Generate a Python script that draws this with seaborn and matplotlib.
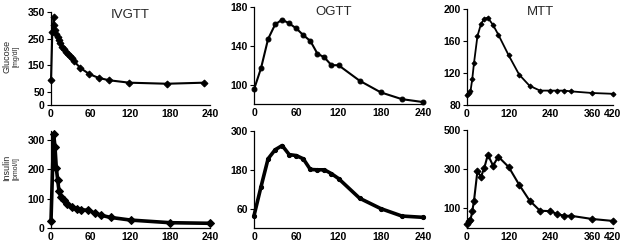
import matplotlib
matplotlib.use("Agg")
import matplotlib.pyplot as plt
import seaborn as sns

sns.set_style("ticks")
plt.rcParams["font.family"] = ["Liberation Sans", "DejaVu Sans"]

# IVGTT
ivgtt_glu_t = [0, 2, 4, 5, 6, 8, 10, 12, 14, 16, 19, 22, 25, 28, 31, 34, 44, 58, 72, 88, 118, 175, 231]
ivgtt_glu = [93, 275, 330, 300, 282, 268, 257, 245, 232, 220, 210, 201, 193, 184, 176, 167, 140, 116, 102, 93, 84, 80, 84]
ivgtt_ins_t = [0, 4, 6, 8, 10, 12, 15, 19, 24, 31, 39, 46, 56, 66, 76, 90, 120, 180, 240]
ivgtt_ins = [25, 320, 276, 205, 165, 127, 105, 94, 83, 72, 66, 62, 60, 51, 43, 36, 27, 18, 16]

# OGTT
ogtt_t = [0, 10, 20, 30, 40, 50, 60, 70, 80, 90, 100, 110, 120, 150, 180, 210, 240]
ogtt_glu = [95, 117, 147, 162, 167, 163, 158, 151, 145, 132, 128, 120, 120, 104, 92, 85, 82]
ogtt_ins = [38, 128, 214, 242, 255, 227, 224, 214, 181, 180, 180, 168, 153, 92, 60, 37, 33]

# MTT
mtt_t = [0, 5, 10, 15, 20, 30, 40, 50, 60, 75, 90, 120, 150, 180, 210, 240, 260, 280, 300, 360, 420]
mtt_glu = [93, 95, 97, 112, 132, 166, 181, 188, 189, 180, 168, 142, 118, 104, 98, 98, 98, 98, 97, 95, 94]
mtt_ins = [22, 36, 40, 85, 137, 291, 260, 308, 374, 318, 364, 311, 221, 140, 88, 86, 70, 63, 62, 46, 36]

fig = plt.figure(figsize=(6.24, 2.45), dpi=100)

W, H = 624, 245


def make_ax(x0, x1, ytop, ybot):
    return fig.add_axes([x0 / W, 1 - ybot / H, (x1 - x0) / W, (ybot - ytop) / H])


ax1 = make_ax(51, 210, 12, 105)
ax2 = make_ax(254, 423, 7, 104)
ax3 = make_ax(467, 613, 9, 105)
ax4 = make_ax(51, 210, 131, 228)
ax5 = make_ax(254, 423, 131, 228)
ax6 = make_ax(467, 613, 130, 228)

kw = dict(color="black", markeredgecolor="black", markerfacecolor="black")
sns.lineplot(ax=ax1, x=ivgtt_glu_t, y=ivgtt_glu, marker="D", markersize=3.5, linewidth=1.5, **kw)
sns.lineplot(ax=ax4, x=ivgtt_ins_t, y=ivgtt_ins, marker="D", markersize=4, linewidth=2.6, **kw)
sns.lineplot(ax=ax2, x=ogtt_t, y=ogtt_glu, marker="o", markersize=3.5, linewidth=1.5, **kw)
sns.lineplot(ax=ax5, x=ogtt_t, y=ogtt_ins, marker="o", markersize=3, linewidth=2.6, **kw)
sns.lineplot(ax=ax3, x=mtt_t, y=mtt_glu, marker="D", markersize=2.5, linewidth=1.3, **kw)
sns.lineplot(ax=ax6, x=mtt_t, y=mtt_ins, marker="D", markersize=3.5, linewidth=1.5, **kw)

settings = [
    (ax1, (0, 240), [0, 60, 120, 180, 240], (0, 350), [0, 50, 150, 250, 350]),
    (ax2, (0, 240), [0, 60, 120, 180, 240], (80, 180), [100, 140, 180]),
    (ax3, (0, 420), [0, 120, 240, 360, 420], (80, 200), [80, 120, 160, 200]),
    (ax4, (0, 240), [0, 60, 120, 180, 240], (0, 330), [0, 100, 200, 300]),
    (ax5, (0, 240), [0, 60, 120, 180, 240], (0, 300), [60, 180, 300]),
    (ax6, (0, 420), [0, 120, 240, 360, 420], (0, 500), [100, 300, 500]),
]
for ax, xl, xt, yl, yt in settings:
    ax.set_xlim(*xl)
    ax.set_ylim(*yl)
    ax.set_xticks(xt)
    ax.set_yticks(yt)
    ax.set_xlabel("")
    ax.set_ylabel("")
    sns.despine(ax=ax)
    for s in ["left", "bottom"]:
        ax.spines[s].set_linewidth(0.9)
        ax.spines[s].set_color("black")
    ax.tick_params(axis="y", length=3, width=0.8, pad=1.5, labelsize=7.5, colors="black")
    ax.tick_params(axis="x", length=0, pad=3, labelsize=7.5, colors="black")
    for lab in ax.get_xticklabels() + ax.get_yticklabels():
        lab.set_fontweight("bold")
    for ln in ax.lines:
        ln.set_clip_on(False)

ax1.text(0.5, 0.97, "IVGTT", transform=ax1.transAxes, ha="center", va="center", fontsize=9.5)
ax2.text(0.47, 0.95, "OGTT", transform=ax2.transAxes, ha="center", va="center", fontsize=9.5)
ax3.text(0.5, 0.97, "MTT", transform=ax3.transAxes, ha="center", va="center", fontsize=9.5)

fig.text(0.011, 0.771, "Glucose", rotation=90, ha="center", va="center", fontsize=6.5)
fig.text(0.026, 0.771, "[mg/dl]", rotation=90, ha="center", va="center", fontsize=5)
fig.text(0.011, 0.314, "Insulin", rotation=90, ha="center", va="center", fontsize=6.5)
fig.text(0.026, 0.314, "[pmol/l]", rotation=90, ha="center", va="center", fontsize=5)

fig.savefig("out.png", dpi=100)
